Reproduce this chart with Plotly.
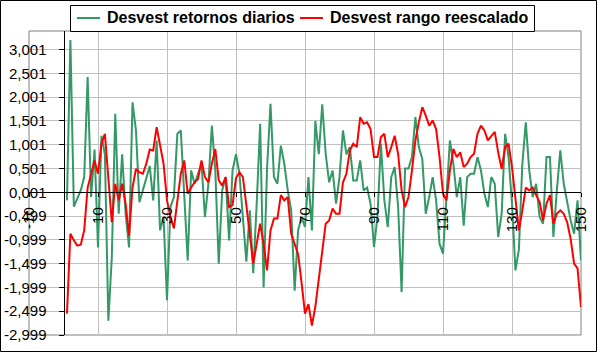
import plotly.graph_objects as go

# ---- data ----
days = list(range(1, 151))
green_vals = [
    -0.17, 3.2, -0.3, -0.13, 0.04, 0.32, 2.42, -0.1, 0.9, -1.16,
    1.19, 0.8, -2.7, -1.37, 1.65, -0.45, 0.8, -0.45, -1.16, 1.89,
    1.3, -0.21, 0.04, 0.32, 0.55, -0.17, 1.09, -0.8, -0.52, -2.27,
    -0.31, -0.1, 1.23, 1.3, -0.1, -1.43, 0.46, 0.18, 0.39, 0.6,
    -0.52, 0.18, 1.4, 0.46, -1.5, 0.04, 0.32, -1.01, 0.46, 0.8,
    0.39, -0.52, -1.46, -0.38, -1.7, -0.24, 1.44, -2.0, 0.5, 1.86,
    0.32, 0.18, 0.98, 0.6, 0.04, -0.38, -2.07, -0.8, -0.52, -0.73,
    0.32, -0.8, 1.5, 0.8, 1.85, 0.8, 0.21, 0.46, -0.24, 0.32,
    1.3, 0.8, 0.95, 0.25, 0.25, 0.67, 0.04, 0.1, -0.24, -1.15,
    -0.52, 1.02, -0.17, -0.73, 0.32, 0.53, -0.31, -2.1, 0.5, 0.5,
    0.74, 1.58, 0.95, 0.7, -0.45, -0.1, 0.32, -0.17, -1.08, -1.29,
    -0.17, 1.09, 0.6, -0.1, 0.32, -0.7, 0.32, 0.39, 0.39, 0.74,
    0.46, -0.03, -0.31, 0.32, 0.18, -0.94, -0.45, 1.23, 0.74, -0.24,
    -1.64, -1.2, 0.6, 1.47, 0.46, -0.1, 0.18, -0.52, -0.66, 0.74,
    0.74, -0.94, 0.04, 0.88, 0.18, -0.24, -0.59, -0.87, -0.17, -1.43,
]
red_vals = [
    -2.55, -0.87, -1.01, -1.12, -1.1, -0.8, 0.1, 0.39, 0.67, 0.39,
    1.02, 1.23, 0.32, -0.63, 0.18, -0.17, 0.18, -0.24, -0.91, 0.1,
    0.49, 0.42, 0.39, 0.6, 0.9, 0.88, 1.37, 1.02, 0.6, -0.17,
    -0.52, -0.76, -0.24, 0.39, 0.67, -0.03, 0.1, 0.21, 0.28, 0.67,
    0.32, 0.21, 0.6, 0.91, 0.25, 0.14, 0.32, -0.31, -0.27, 0.3,
    0.42, 0.32, -0.27, -0.87, -1.5, -1.08, -0.66, -1.08, -1.64, -0.8,
    -0.55, -0.55, -0.06, -0.17, -0.1, -0.87, -1.08, -1.3, -1.9, -2.55,
    -2.35, -2.8, -2.4, -1.85, -1.2, -0.66, -0.59, -0.34, -0.45, -0.45,
    0.21, 0.39, 0.88, 1.02, 0.95, 1.58, 1.44, 1.47, 1.33, 0.74,
    0.74, 1.16, 1.23, 0.74, 0.95, 1.19, 0.8, 0.04, -0.31, -0.1,
    0.46, 1.09, 1.47, 1.79, 1.61, 1.4, 1.51, 1.33, 0.74, -0.03,
    -0.17, 0.46, 0.91, 0.74, 0.84, 0.53, 0.6, 0.74, 0.81, 1.23,
    1.4, 1.3, 1.09, 1.19, 1.27, 0.84, 0.49, 0.95, 1.02, 0.53,
    -0.1, -0.8, -0.38, 0.1, 0.04, 0.1, -0.06, -0.2, -0.59, -0.24,
    -0.06, -0.66, -0.45, -0.38, -0.45, -0.63, -0.98, -1.5, -1.6, -2.41,
]
series_names = ["Desvest retornos diarios", "Desvest rango reescalado"]
series_colors = ["#339966", "#FF0000"]
x_ticks = list(range(-10, 151, 20))
y_ticks = [round(-2.999 + 0.5 * i, 3) for i in range(13)]
y_ticktext = [f"{v:.3f}".replace(".", ",") for v in y_ticks]

# ---- layout constants ----
W, H = 598, 353
ML, MR, MT, MB = 29, 17, 31, 18
PW, PH = W - ML - MR, H - MT - MB
X_RANGE = [-10, 150]
Y_RANGE = [-2.999, 3.39]
FONT = "Liberation Sans, Arial, sans-serif"


def px_to_paper_x(px):
    return (px - ML) / PW


def px_to_paper_y(py):
    return (H - MB - py) / PH


fig = go.Figure()
for name, vals, col in zip(series_names, [green_vals, red_vals], series_colors):
    fig.add_trace(go.Scatter(x=days, y=vals, mode="lines", name=name,
                             line=dict(color=col, width=2), showlegend=False))

xpos = (0.001 - Y_RANGE[0]) / (Y_RANGE[1] - Y_RANGE[0])
ypos = (0 - X_RANGE[0]) / (X_RANGE[1] - X_RANGE[0])

# manual legend (box, line samples, labels)
leg_box = (70, 534, 5, 31)
leg_items = [(77, 100, 105), (300, 323, 328)]
shapes = [
    dict(type="rect", xref="paper", yref="paper", x0=0, x1=1, y0=0, y1=1,
         line=dict(color="#808080", width=1), layer="below"),
    dict(type="rect", xref="paper", yref="paper",
         x0=px_to_paper_x(0.5), x1=px_to_paper_x(596.5),
         y0=px_to_paper_y(351.5), y1=px_to_paper_y(0.5),
         line=dict(color="black", width=1)),
    dict(type="rect", xref="paper", yref="paper",
         x0=px_to_paper_x(leg_box[0] + 0.5), x1=px_to_paper_x(leg_box[1] + 0.5),
         y0=px_to_paper_y(leg_box[3] + 0.5), y1=px_to_paper_y(leg_box[2] + 0.5),
         line=dict(color="black", width=1), fillcolor="white"),
]
annotations = []
ly = px_to_paper_y(18)
for (lx0, lx1, tx), name, col in zip(leg_items, series_names, series_colors):
    shapes.append(dict(type="line", xref="paper", yref="paper",
                       x0=px_to_paper_x(lx0), x1=px_to_paper_x(lx1), y0=ly, y1=ly,
                       line=dict(color=col, width=2)))
    annotations.append(dict(xref="paper", yref="paper", x=px_to_paper_x(tx), y=ly,
                            text=name, showarrow=False, xanchor="left", yanchor="middle",
                            font=dict(family=FONT, size=16, weight="bold", color="black")))

fig.update_layout(
    width=W, height=H,
    margin=dict(l=ML, r=MR, t=MT, b=MB, pad=0, autoexpand=False),
    paper_bgcolor="white", plot_bgcolor="white",
    font=dict(family=FONT, size=15, color="black"),
    showlegend=False,
    xaxis=dict(range=X_RANGE, tickvals=x_ticks, ticktext=[str(v) for v in x_ticks],
               tickangle=-90, showgrid=True, gridcolor="#C0C0C0", gridwidth=1,
               zeroline=False, anchor="free", position=xpos,
               showline=True, linecolor="black", linewidth=1,
               ticks="outside", ticklen=4, tickcolor="black",
               ticklabelstandoff=4, fixedrange=True, automargin=False),
    yaxis=dict(range=Y_RANGE, tickvals=y_ticks, ticktext=y_ticktext,
               showgrid=True, gridcolor="#C0C0C0", gridwidth=1,
               zeroline=False, anchor="free", position=ypos,
               showline=True, linecolor="black", linewidth=1,
               ticks="outside", ticklen=5, tickcolor="black",
               ticklabelstandoff=9, fixedrange=True, automargin=False),
    shapes=shapes,
    annotations=annotations,
)

fig.write_html("out.html")
